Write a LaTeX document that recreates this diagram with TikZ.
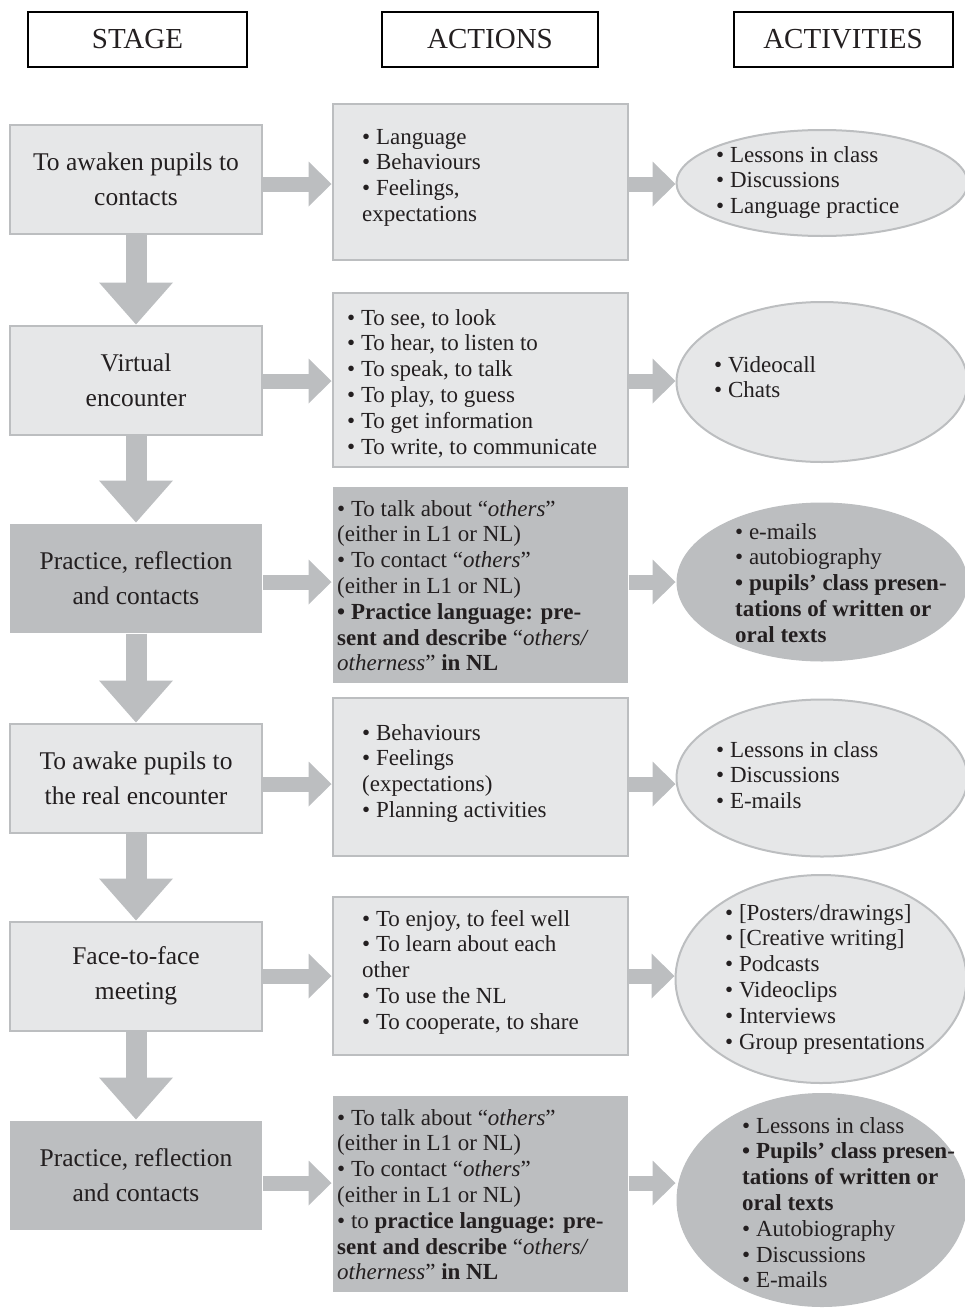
\documentclass[tikz,border=0pt]{standalone}
\usepackage{fontspec}
\setmainfont{Liberation Serif}
\usetikzlibrary{arrows.meta,shapes.geometric}
\definecolor{boxfill}{HTML}{E6E7E8}
\definecolor{boxedge}{HTML}{BCBEC0}
\definecolor{boxdark}{HTML}{BCBEC0}
\definecolor{inkc}{HTML}{231F20}
\begin{document}
\begin{tikzpicture}[x=1pt,y=-1pt,
                    every node/.style={text=inkc},
                    head/.style={draw=black,line width=2pt,fill=white,minimum height=55pt,inner sep=0pt,
                                 font=\fontsize{29}{32}\selectfont},
                    stagebox/.style={draw=boxedge,line width=2pt,fill=boxfill,minimum width=252pt,
                                     minimum height=109pt,align=center,font=\fontsize{25.5}{35}\selectfont},
                    stagedark/.style={stagebox,draw=none,fill=boxdark},
                    actbox/.style={draw=boxedge,line width=2pt,fill=boxfill,minimum width=295pt},
                    actdark/.style={actbox,draw=none,fill=boxdark},
                    actell/.style={ellipse,draw=boxedge,line width=2pt,fill=boxfill,minimum width=291pt,inner sep=0pt},
                    actelldark/.style={actell,draw=none,fill=boxdark},
                    list/.style={anchor=base west,align=left,inner sep=0pt,font=\fontsize{23}{25.8}\selectfont},
                    downarrow/.style={draw=boxedge,line width=21pt,-{Triangle[width=74pt,length=42pt,line width=0pt]}},
                    sidearrow/.style={draw=boxedge,line width=15pt,-{Triangle[width=45pt,length=23pt,line width=0pt]}}]
 \useasboundingbox (0,0) rectangle (964,1309);
 \node[head,minimum width=219pt] (hs) at (137.5,39.5) {STAGE};
 \node[head,minimum width=216pt] (ha) at (490,39.5) {ACTIONS};
 \node[head,minimum width=219pt] (hv) at (843,39.5) {ACTIVITIES};
 \coordinate (r1) at (0,184); \coordinate (r2) at (0,381); \coordinate (r3) at (0,582);
 \coordinate (r4) at (0,784); \coordinate (r5) at (0,976); \coordinate (r6) at (0,1183);
 % stages
 \node[stagebox] (s1) at (136,179) {To awaken pupils to\\contacts};
 \node[stagebox] (s2) at (136,380) {Virtual\\encounter};
 \node[stagedark] (s3) at (136,578) {Practice, reflection\\and contacts};
 \node[stagebox] (s4) at (136,778) {To awake pupils to\\the real encounter};
 \node[stagebox] (s5) at (136,976) {Face-to-face\\meeting};
 \node[stagedark] (s6) at (136,1175) {Practice, reflection\\and contacts};
 % actions (lists sit on the baseline of their last line)
 \node[actbox,minimum height=156pt] (a1) at (480,182) {};
 \node[actbox,minimum height=174pt] (a2) at (480,380) {};
 \node[actdark,minimum height=196pt] (a3) at (480,585) {};
 \node[actbox,minimum height=158pt] (a4) at (480,777) {};
 \node[actbox,minimum height=158pt] (a5) at (480,976) {};
 \node[actdark,minimum height=196pt] (a6) at (480,1194) {};
 \node[list] (t1) at (362,221.4) {• Language\\• Behaviours\\• Feelings,\\expectations};
 \node[list] (t2) at (347,454) {• To see, to look\\• To hear, to listen to\\• To speak, to talk\\• To play, to guess\\
   • To get information\\• To write, to communicate};
 \node[list] (t3) at (337,670.8) {• To talk about “\textit{others}”\\(either in L1 or NL)\\• To contact “\textit{others}”\\
   (either in L1 or NL)\\\textbf{• Practice language: pre-}\\\textbf{sent and describe} “\textit{others/}\\
   \textit{otherness}” \textbf{in NL}};
 \node[list] (t4) at (362,817.4) {• Behaviours\\• Feelings\\(expectations)\\• Planning activities};
 \node[list] (t5) at (362,1029.2) {• To enjoy, to feel well\\• To learn about each\\other\\• To use the NL\\• To cooperate, to share};
 \node[list] (t6) at (337,1279.8) {• To talk about “\textit{others}”\\(either in L1 or NL)\\• To contact “\textit{others}”\\
   (either in L1 or NL)\\• to \textbf{practice language: pre-}\\\textbf{sent and describe} “\textit{others/}\\
   \textit{otherness}” \textbf{in NL}};
 % activities
 \node[actell,minimum height=106pt] (e1) at (822,183) {};
 \node[actell,minimum height=160pt] (e2) at (822,382) {};
 \node[actelldark,minimum height=159pt] (e3) at (822,582) {};
 \node[actell,minimum height=157pt] (e4) at (822,778) {};
 \node[actell,minimum height=208pt] (e5) at (821,979) {};
 \node[actelldark,minimum height=214pt] (e6) at (822,1200) {};
 \node[list] (l1) at (716,213.6) {• Lessons in class\\• Discussions\\• Language practice};
 \node[list] (l2) at (714,397.8) {• Videocall\\• Chats};
 \node[list] (l3) at (735,642.2) {• e-mails\\• autobiography\\\textbf{• pupils’ class presen-}\\
   \textbf{tations of written or}\\\textbf{oral texts}};
 \node[list] (l4) at (716,808.6) {• Lessons in class\\• Discussions\\• E-mails};
 \node[list] (l5) at (725,1049) {• [Posters/drawings]\\• [Creative writing]\\• Podcasts\\• Videoclips\\• Interviews\\
   • Group presentations};
 \node[list] (l6) at (742,1287.8) {• Lessons in class\\\textbf{• Pupils’ class presen-}\\\textbf{tations of written or}\\
   \textbf{oral texts}\\• Autobiography\\• Discussions\\• E-mails};
 % arrows
 \foreach \i/\j in {1/2,2/3,3/4,4/5,5/6} \draw[downarrow] (s\i) -- (s\j);
 \foreach \i in {1,...,6} {
   \draw[sidearrow] (s\i.east |- r\i) -- (a\i.west |- r\i);
   \draw[sidearrow] (a\i.east |- r\i) -- (e\i.west |- r\i);
 }
\end{tikzpicture}
\end{document}
